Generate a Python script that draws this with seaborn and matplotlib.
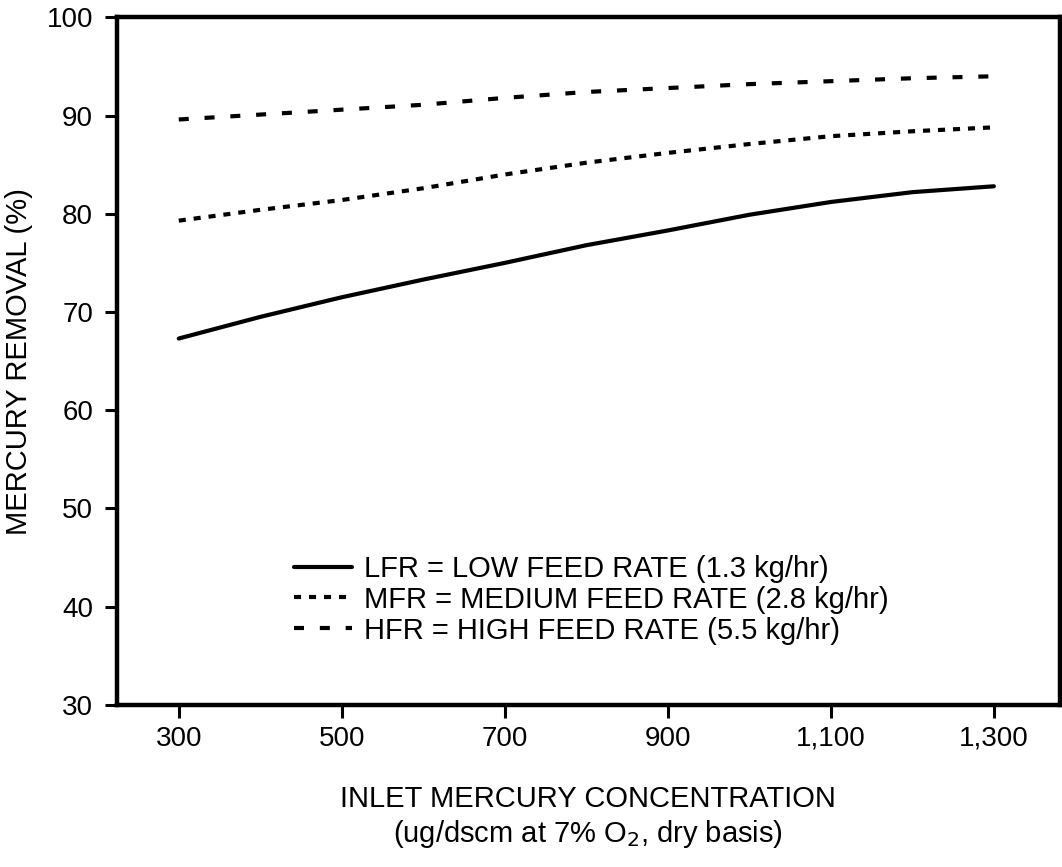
import pandas as pd
import numpy as np
import seaborn as sns
import matplotlib.pyplot as plt

# Inlet mercury concentration (ug/dscm) and removal (%)
conc = [300, 400, 500, 600, 700, 800, 900, 1000, 1100, 1200, 1300]
lfr = [67.3, 69.5, 71.5, 73.3, 75.0, 76.8, 78.3, 79.9, 81.2, 82.2, 82.8]
mfr = [79.3, 80.4, 81.4, 82.6, 84.0, 85.2, 86.2, 87.1, 87.9, 88.4, 88.8]
hfr = [89.6, 90.1, 90.6, 91.1, 91.8, 92.4, 92.8, 93.2, 93.5, 93.8, 94.0]

labels = ['LFR = LOW FEED RATE (1.3 kg/hr)',
          'MFR = MEDIUM FEED RATE (2.8 kg/hr)',
          'HFR = HIGH FEED RATE (5.5 kg/hr)']

xticks = [300, 500, 700, 900, 1100, 1300]
xticklabels = ['300', '500', '700', '900', '1,100', '1,300']
yticks = [30, 40, 50, 60, 70, 80, 90, 100]

# Long format for seaborn
df = pd.concat([
    pd.DataFrame({'conc': conc, 'removal': lfr, 'rate': labels[0]}),
    pd.DataFrame({'conc': conc, 'removal': mfr, 'rate': labels[1]}),
    pd.DataFrame({'conc': conc, 'removal': hfr, 'rate': labels[2]}),
])

sns.set_style('ticks')
plt.rcParams['font.family'] = ['Liberation Sans', 'DejaVu Sans']
plt.rcParams['text.color'] = 'black'
plt.rcParams['axes.labelcolor'] = 'black'

fig = plt.figure(figsize=(10.62, 8.67), dpi=100)
ax = fig.add_axes([0.110, 0.187, 0.888, 0.793])

dash_styles = {labels[0]: '', labels[1]: (1.7, 1.9), labels[2]: (2.4, 3.8)}
sns.lineplot(data=df, x='conc', y='removal', style='rate', style_order=labels,
             dashes=dash_styles, color='black', linewidth=3, ax=ax)

ax.set_xlim(224, 1381)
ax.set_ylim(30, 100)
ax.set_xticks(xticks)
ax.set_xticklabels(xticklabels)
ax.set_yticks(yticks)

for s in ax.spines.values():
    s.set_visible(True)
    s.set_linewidth(3.2)
    s.set_color('black')

ax.tick_params(axis='both', direction='out', length=9, width=2.2,
               labelsize=20, colors='black', pad=8)
ax.tick_params(axis='x', pad=6)

ax.set_xlabel('INLET MERCURY CONCENTRATION\n(ug/dscm at 7% O$_2$, dry basis)',
              fontsize=21, labelpad=24, linespacing=1.2)
ax.set_ylabel('MERCURY REMOVAL (%)', fontsize=21, labelpad=10)

leg = ax.legend(loc='center left', bbox_to_anchor=(0.188, 0.153), frameon=False,
                fontsize=21, handlelength=2.0, handletextpad=0.4,
                labelspacing=0.1, borderaxespad=0, borderpad=0)
for line in leg.get_lines():
    line.set_linewidth(3)

fig.savefig('out.png', dpi=100)
